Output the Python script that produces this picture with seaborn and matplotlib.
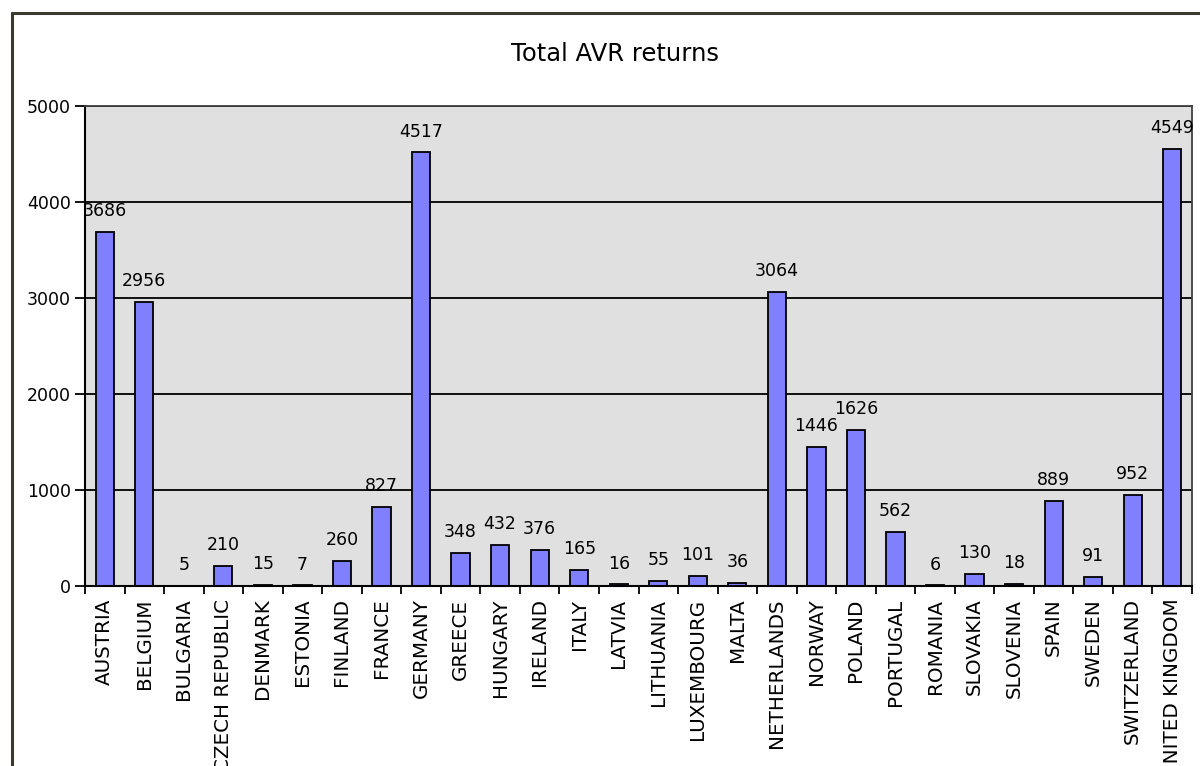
import matplotlib
matplotlib.use("Agg")
import matplotlib.pyplot as plt
from matplotlib.lines import Line2D
import seaborn as sns
import pandas as pd
import numpy as np

countries = ["AUSTRIA", "BELGIUM", "BULGARIA", "CZECH REPUBLIC", "DENMARK", "ESTONIA",
             "FINLAND", "FRANCE", "GERMANY", "GREECE", "HUNGARY", "IRELAND", "ITALY",
             "LATVIA", "LITHUANIA", "LUXEMBOURG", "MALTA", "NETHERLANDS", "NORWAY",
             "POLAND", "PORTUGAL", "ROMANIA", "SLOVAKIA", "SLOVENIA", "SPAIN", "SWEDEN",
             "SWITZERLAND", "UNITED KINGDOM"]
returns = [3686, 2956, 5, 210, 15, 7, 260, 827, 4517, 348, 432, 376, 165, 16, 55, 101,
           36, 3064, 1446, 1626, 562, 6, 130, 18, 889, 91, 952, 4549]
y_ticks = [0, 1000, 2000, 3000, 4000, 5000]
title = "Total AVR returns"

sns.set_theme(style="white")
plt.rcParams["font.family"] = ["DejaVu Sans"]

W, H = 1200, 766
fig = plt.figure(figsize=(W / 100, H / 100), dpi=100)
fig.patch.set_facecolor("white")
ax = fig.add_axes([85 / W, 1 - 586 / H, (1192 - 85) / W, (586 - 106) / H])

df = pd.DataFrame({"country": countries, "returns": returns})
sns.barplot(data=df, x="country", y="returns", color="#8080FF", saturation=1,
            edgecolor="black", linewidth=1.3, width=0.46, ax=ax)

ax.set_facecolor("#E0E0E0")
ax.set_ylim(0, 5000)
ax.set_xlim(-0.5, len(countries) - 0.5)
ax.set_yticks(y_ticks)
ax.set_yticklabels([str(t) for t in y_ticks], fontsize=12.5, color="black")
ax.set_xticks(range(len(countries)))
ax.set_xticklabels(countries, rotation=90, fontsize=14.3, color="black", va="top")
ax.set_xticks(np.arange(-0.5, len(countries), 1.0), minor=True)
ax.tick_params(axis="x", which="major", length=0, pad=9)
ax.tick_params(axis="x", which="minor", length=6, width=1.3, color="black", direction="out", bottom=True)
ax.tick_params(axis="y", which="major", length=7, width=1.3, color="black", direction="out", left=True, pad=3)
ax.set_xlabel("")
ax.set_ylabel("")
ax.set_axisbelow(True)
ax.yaxis.grid(True, color="black", linewidth=1.3)
ax.xaxis.grid(False)
for side in ["left", "bottom"]:
    ax.spines[side].set_color("black")
    ax.spines[side].set_linewidth(1.5)
for side in ["top", "right"]:
    ax.spines[side].set_color("#404040")
    ax.spines[side].set_linewidth(1.3)

for i, v in enumerate(returns):
    ax.annotate(str(v), (i, v), xytext=(0, 8.5), textcoords="offset points",
                ha="center", va="bottom", fontsize=12.5, color="black")

fig.text(615 / W, 1 - 54 / H, title, ha="center", va="center", fontsize=17.5, color="black")

# outer chart frame (top and left edges visible)
fig.add_artist(Line2D([12 / W, 1.0], [1 - 13 / H, 1 - 13 / H], transform=fig.transFigure,
                      color="#3a3a30", linewidth=2.2))
fig.add_artist(Line2D([12 / W, 12 / W], [0.0, 1 - 13 / H], transform=fig.transFigure,
                      color="#3a3a30", linewidth=2.2))

fig.savefig("out.png", dpi=100)
